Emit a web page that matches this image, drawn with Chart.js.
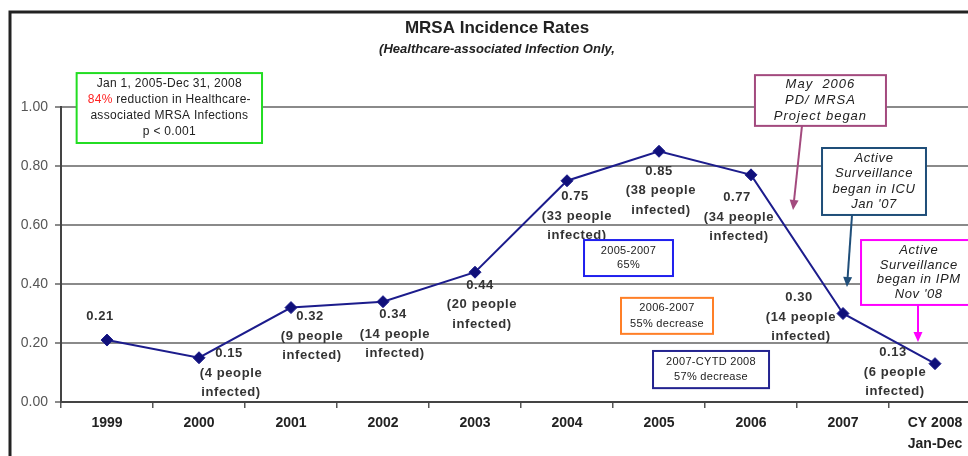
<!DOCTYPE html>
<html lang="en">
<head>
<meta charset="UTF-8">
<title>MRSA Incidence Rates</title>
<script src="https://cdn.jsdelivr.net/npm/chart.js"></script>
<style>
  html, body { margin: 0; padding: 0; background: #fff; overflow: hidden; }
  #wrap { width: 994px; height: 456px; }
</style>
</head>
<body>
<div id="wrap"><canvas id="mrsa" width="994" height="456"></canvas></div>
<script>
// data
const years = ['1999', '2000', '2001', '2002', '2003', '2004', '2005', '2006', '2007', ['CY 2008', 'Jan-Dec']];
const rates = [0.21, 0.15, 0.32, 0.34, 0.44, 0.75, 0.85, 0.77, 0.30, 0.13];
const peopleInfected = [null, 4, 9, 14, 20, 33, 38, 34, 14, 6];
const yTicks = [0, 0.2, 0.4, 0.6, 0.8, 1.0];

// where each point's label sits relative to the point (px)
const labelOffsets = [[-7, -24], [30, -4], [19, 9], [10, 13], [5, 13], [8, 16], [0, 20], [-14, 23], [-44, -16], [-42, -11]];

// note boxes, in data coords: x = category index, y = rate
const notes = [
  { x0: -0.33, x1: 1.685, y0: 1.115, y1: 0.878, color: '#22dd22', font: '12px "Liberation Sans", Arial', lh: 16, spacing: '0.3px',
    lines: [['Jan 1, 2005-Dec 31, 2008'], [['84%', '#ff2222'], ' reduction in Healthcare-'], ['associated MRSA Infections'], ['p < 0.001']] },
  { x0: 5.185, x1: 6.152, y0: 0.549, y1: 0.427, color: '#2020ee', font: '11px "Liberation Sans", Arial', lh: 14, spacing: '0.3px',
    lines: [['2005-2007'], ['65%']] },
  { x0: 5.587, x1: 6.587, y0: 0.353, y1: 0.231, color: '#ff7f27', font: '11px "Liberation Sans", Arial', lh: 16, spacing: '0.3px',
    lines: [['2006-2007'], ['55% decrease']] },
  { x0: 5.935, x1: 7.196, y0: 0.173, y1: 0.047, color: '#232390', font: '11px "Liberation Sans", Arial', lh: 15, spacing: '0.3px',
    lines: [['2007-CYTD 2008'], ['57% decrease']] },
  { x0: 7.043, x1: 8.467, y0: 1.108, y1: 0.936, color: '#a34a7e', font: 'italic 13px "Liberation Sans", Arial', lh: 16, spacing: '1px',
    lines: [['May  2006'], ['PD/ MRSA'], ['Project began']],
    arrow: [7.554, 0.936, 7.457, 0.651] },
  { x0: 7.772, x1: 8.902, y0: 0.861, y1: 0.634, color: '#1f4e79', font: 'italic 13px "Liberation Sans", Arial', lh: 15.5, spacing: '0.6px',
    lines: [['Active'], ['Surveillance'], ['began in ICU'], ["Jan '07"]],
    arrow: [8.098, 0.634, 8.043, 0.39] },
  { x0: 8.196, x1: 9.45, y0: 0.549, y1: 0.329, color: '#ff00ff', font: 'italic 13px "Liberation Sans", Arial', lh: 14.7, spacing: '0.6px',
    lines: [['Active'], ['Surveillance'], ['began in IPM'], ["Nov '08"]],
    arrow: [8.815, 0.329, 8.815, 0.203] }
];

function drawArrow(ctx, x1, y1, x2, y2, color) {
  const a = Math.atan2(y2 - y1, x2 - x1);
  const len = 10, half = 4.5;
  ctx.save();
  ctx.strokeStyle = color;
  ctx.fillStyle = color;
  ctx.lineWidth = 2;
  ctx.beginPath();
  ctx.moveTo(x1, y1);
  ctx.lineTo(x2 - len * Math.cos(a), y2 - len * Math.sin(a));
  ctx.stroke();
  ctx.beginPath();
  ctx.moveTo(x2, y2);
  ctx.lineTo(x2 - len * Math.cos(a) + half * Math.sin(a), y2 - len * Math.sin(a) - half * Math.cos(a));
  ctx.lineTo(x2 - len * Math.cos(a) - half * Math.sin(a), y2 - len * Math.sin(a) + half * Math.cos(a));
  ctx.closePath();
  ctx.fill();
  ctx.restore();
}

const extras = {
  id: 'extras',
  afterDraw(chart) {
    const ctx = chart.ctx;
    const xs = chart.scales.x, ys = chart.scales.y;
    const cx = chart.width / 2;

    // frame
    ctx.save();
    ctx.strokeStyle = '#222';
    ctx.lineWidth = 3;
    ctx.beginPath();
    ctx.moveTo(10, chart.height);
    ctx.lineTo(10, 12);
    ctx.lineTo(chart.width, 12);
    ctx.stroke();

    // titles
    ctx.fillStyle = '#222';
    ctx.textAlign = 'center';
    ctx.textBaseline = 'middle';
    ctx.font = 'bold 17px "Liberation Sans", Arial';
    ctx.fillText('MRSA Incidence Rates', cx, 28);
    ctx.font = 'italic bold 13px "Liberation Sans", Arial';
    ctx.fillText('(Healthcare-associated Infection Only,', cx, 49);

    // point labels
    ctx.font = 'bold 13px "Liberation Sans", Arial';
    ctx.letterSpacing = '0.6px';
    ctx.fillStyle = '#333';
    const meta = chart.getDatasetMeta(0);
    meta.data.forEach((pt, i) => {
      const [dx, dy] = labelOffsets[i];
      const lines = [rates[i].toFixed(2)];
      if (peopleInfected[i] !== null) lines.push('(' + peopleInfected[i] + ' people', 'infected)');
      lines.forEach((t, k) => ctx.fillText(t, pt.x + dx + (k ? 2 : 0), pt.y + dy + k * 19.5));
    });

    // note boxes
    notes.forEach(n => {
      const l = xs.getPixelForValue(n.x0), r = xs.getPixelForValue(n.x1);
      const t = ys.getPixelForValue(n.y0), b = ys.getPixelForValue(n.y1);
      ctx.fillStyle = '#fff';
      ctx.fillRect(l, t, r - l, b - t);
      ctx.strokeStyle = n.color;
      ctx.lineWidth = 2;
      ctx.strokeRect(l, t, r - l, b - t);
      ctx.font = n.font;
      ctx.letterSpacing = n.spacing;
      const midY = (t + b) / 2, midX = (l + r) / 2;
      n.lines.forEach((parts, k) => {
        const y = midY + (k - (n.lines.length - 1) / 2) * n.lh;
        const segs = parts.map(p => typeof p === 'string' ? [p, '#222'] : [p[0], p[1] || '#222']);
        const total = segs.reduce((s, p) => s + ctx.measureText(p[0]).width, 0);
        let x = midX - total / 2;
        ctx.textAlign = 'left';
        segs.forEach(([txt, col]) => {
          ctx.fillStyle = col;
          ctx.fillText(txt, x, y);
          x += ctx.measureText(txt).width;
        });
      });
      if (n.arrow) {
        const [ax0, ay0, ax1, ay1] = n.arrow;
        drawArrow(ctx, xs.getPixelForValue(ax0), ys.getPixelForValue(ay0),
          xs.getPixelForValue(ax1), ys.getPixelForValue(ay1), n.color);
      }
    });
    ctx.restore();
  }
};

new Chart(document.getElementById('mrsa').getContext('2d'), {
  type: 'line',
  data: {
    labels: years,
    datasets: [{
      data: rates,
      borderColor: '#1c1c8c',
      backgroundColor: '#10107a',
      borderWidth: 2,
      pointStyle: 'rectRot',
      pointRadius: 6,
      pointBorderWidth: 1,
      tension: 0
    }]
  },
  options: {
    responsive: false,
    animation: false,
    devicePixelRatio: 1,
    layout: { padding: { top: 107, left: 17, right: 13, bottom: 0 } },
    plugins: { legend: { display: false }, tooltip: { enabled: false } },
    scales: {
      x: {
        offset: true,
        afterFit: s => { s.height = 54; },
        grid: { drawOnChartArea: false, offset: true, tickLength: 6, color: '#555', lineWidth: 1.5 },
        border: { color: '#444', width: 2 },
        ticks: { padding: 5, color: '#222', font: { family: '"Liberation Sans", Arial', size: 14, weight: 'bold', lineHeight: 1.5 } }
      },
      y: {
        min: 0,
        max: 1,
        afterFit: s => { s.width = 44; },
        afterBuildTicks: s => { s.ticks = yTicks.map(v => ({ value: v })); },
        grid: { color: '#8a8a8a', lineWidth: 2, tickLength: 6 },
        border: { color: '#444', width: 2 },
        ticks: { padding: 7, color: '#555', font: { family: '"Liberation Sans", Arial', size: 14 }, callback: v => v.toFixed(2) }
      }
    }
  },
  plugins: [extras]
});
</script>
</body>
</html>
